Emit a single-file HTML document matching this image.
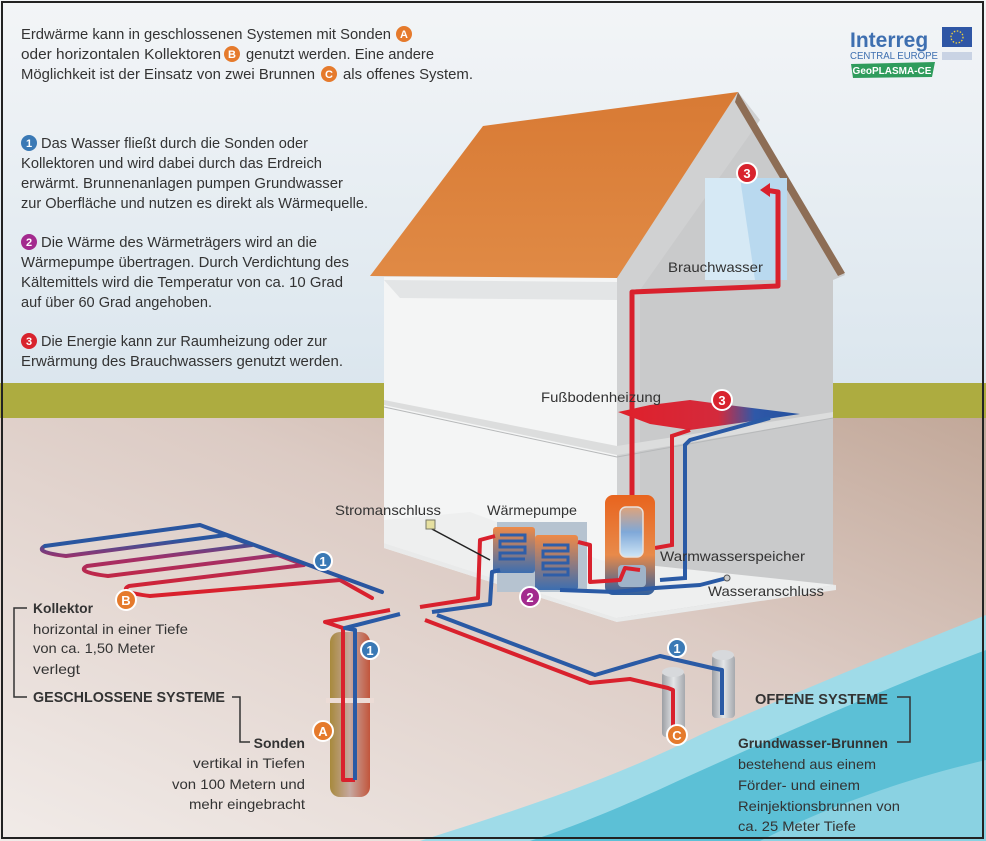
<!DOCTYPE html>
<html><head><meta charset="utf-8">
<style>
html,body{margin:0;padding:0;background:#fff;}
svg{display:block;}
text{font-family:"Liberation Sans",sans-serif;}
</style></head>
<body>
<svg width="986" height="841" viewBox="0 0 986 841" xmlns="http://www.w3.org/2000/svg">
<defs>
<linearGradient id="sky" x1="0" y1="0" x2="0" y2="1">
<stop offset="0" stop-color="#f3f5f7"/><stop offset="1" stop-color="#dbe6ee"/></linearGradient>
<linearGradient id="ground" x1="0" y1="1" x2="1" y2="0">
<stop offset="0" stop-color="#f1ebe8"/><stop offset="0.6" stop-color="#dccbc4"/><stop offset="1" stop-color="#c2a899"/></linearGradient>
<linearGradient id="roof" x1="0" y1="0" x2="0" y2="1">
<stop offset="0" stop-color="#d87a34"/><stop offset="1" stop-color="#e08a45"/></linearGradient>
<linearGradient id="tank" x1="0" y1="0" x2="0" y2="1">
<stop offset="0" stop-color="#e8641e"/><stop offset="0.6" stop-color="#e88a4a"/><stop offset="1" stop-color="#2e5fa0"/></linearGradient>
<linearGradient id="inner" x1="0" y1="0" x2="0" y2="1">
<stop offset="0" stop-color="#e0a37a"/><stop offset="0.5" stop-color="#7fa8d8"/><stop offset="1" stop-color="#cfe6f6"/></linearGradient>
<linearGradient id="hp" x1="0" y1="0" x2="0" y2="1">
<stop offset="0" stop-color="#ee8a48"/><stop offset="1" stop-color="#3c6eb0"/></linearGradient>
<linearGradient id="sonde" x1="0" y1="0" x2="1" y2="0">
<stop offset="0" stop-color="#a7893c"/><stop offset="0.5" stop-color="#c6a8a0"/><stop offset="1" stop-color="#c2553b"/></linearGradient>
<linearGradient id="well" x1="0" y1="0" x2="1" y2="0">
<stop offset="0" stop-color="#9c9fa4"/><stop offset="0.5" stop-color="#e3e5e7"/><stop offset="1" stop-color="#a5a8ad"/></linearGradient>
<linearGradient id="fh" x1="0" y1="0" x2="1" y2="0">
<stop offset="0" stop-color="#e0202a"/><stop offset="0.55" stop-color="#d42a3c"/><stop offset="0.75" stop-color="#2f58a8"/><stop offset="1" stop-color="#24519e"/></linearGradient>
<linearGradient id="coll" gradientUnits="userSpaceOnUse" x1="0" y1="540" x2="0" y2="590">
<stop offset="0" stop-color="#2a56a0"/><stop offset="0.35" stop-color="#a0306a"/><stop offset="1" stop-color="#d9212d"/></linearGradient>
</defs>

<rect x="0" y="0" width="986" height="384" fill="url(#sky)"/>
<rect x="0" y="383" width="986" height="36" fill="#adac40"/>
<rect x="0" y="418" width="986" height="423" fill="url(#ground)"/>

<path d="M986,615 C900,650 800,690 700,735 C600,785 500,815 420,841 L986,841 Z" fill="#9fdbe8"/>
<path d="M986,650 C880,690 780,735 680,780 C620,808 570,828 530,841 L986,841 Z" fill="#5cc0d6"/>
<path d="M986,760 C900,780 820,810 760,841 L986,841 Z" fill="#8ad2e2"/>

<polygon points="617,277 738,92 845,275 833,280 833,590 617,622" fill="#c9cacb"/>
<polygon points="617,277 738,92 760,120 640,290 640,610 617,622" fill="#d0d1d2"/>
<polygon points="384,277 617,277 617,622 384,548" fill="#f4f5f5"/>
<polygon points="384,280 617,282 617,300 400,298" fill="#e3e5e6"/>
<polygon points="384,405 617,455 833,418 833,412 617,446 384,400" fill="#dcdddd"/>
<line x1="384" y1="407" x2="617" y2="457" stroke="#b7b9ba" stroke-width="1"/>
<line x1="617" y1="457" x2="833" y2="418" stroke="#b7b9ba" stroke-width="1"/>
<polygon points="384,548 617,622 836,590 836,585 617,618 384,543" fill="#e9eaea"/>
<polygon points="384,520 470,512 600,560 836,585 617,618 384,543" fill="#eeefef"/>
<polygon points="370,276 483,126 738,92 617,278" fill="url(#roof)"/>
<polygon points="738,92 845,273 838,276 735,102" fill="#8d6d55"/>
<rect x="705" y="178" width="82" height="102" fill="#d6e9f5"/>
<polygon points="740,178 787,178 787,280 755,280" fill="#b9d9ef"/>

<polyline points="632,510 632,292 778,286 778,192 765,190" fill="none" stroke="#d9212d" stroke-width="5" stroke-linejoin="round"/>
<polygon points="760,190 770,183 770,197" fill="#d9212d"/>

<polygon points="618,412 650,405 690,400 720,404 800,414 760,420 690,430 650,424" fill="url(#fh)"/>
<polyline points="690,430 672,436 672,545 655,548" fill="none" stroke="#d9212d" stroke-width="4"/>
<polyline points="770,418 690,440 685,445 685,578 660,580" fill="none" stroke="#2a5aa5" stroke-width="4"/>

<rect x="497" y="522" width="90" height="70" fill="#b6c3d0"/>
<rect x="493" y="527" width="42" height="46" rx="3" fill="url(#hp)"/>
<rect x="535" y="535" width="43" height="55" rx="3" fill="url(#hp)"/>
<g fill="none" stroke="#2f5ea8" stroke-width="3">
<path d="M500,535 h25 v6 h-25 v6 h25 v6 h-25 v6 h25"/>
<path d="M543,545 h25 v6 h-25 v6 h25 v6 h-25 v6 h25 v6 h-25"/>
</g>
<rect x="605" y="495" width="50" height="100" rx="8" fill="url(#tank)"/>
<rect x="620" y="507" width="23" height="50" rx="6" fill="url(#inner)" stroke="#e7e0dc" stroke-width="1.5"/>
<rect x="618" y="565" width="28" height="22" rx="4" fill="#9fb3c8"/>
<g fill="none" stroke-width="4" stroke-linejoin="round">
<polyline points="578,542 590,545 590,582 620,580 625,568 640,570" stroke="#d9212d"/>
<polyline points="560,590 615,592 655,588 700,585 727,578" stroke="#2a5aa5"/>
<polyline points="420,607 478,598 480,540 495,536" stroke="#d9212d"/>
<polyline points="432,612 490,604 492,572 500,570" stroke="#2a5aa5"/>
</g>
<line x1="430" y1="528" x2="490" y2="560" stroke="#222" stroke-width="1.5"/>
<rect x="426" y="520" width="9" height="9" fill="#e6e0a0" stroke="#776" stroke-width="1"/>
<circle cx="727" cy="578" r="3" fill="#ccc" stroke="#555"/>

<!-- collector serpentine -->
<path d="M45,546 Q33,552 66,556 L226,535 Q242,541 252,545 L87,566 Q75,572 108,576 L278,555 Q294,561 304,565 L129,586 Q117,592 150,596 L340,580 L372,598" fill="none" stroke="url(#coll)" stroke-width="4" stroke-linejoin="round" stroke-linecap="round"/>
<path d="M382,592 L200,525 L45,546" fill="none" stroke="#2a56a0" stroke-width="4" stroke-linejoin="round" stroke-linecap="round"/>

<rect x="330" y="632" width="40" height="165" rx="10" fill="url(#sonde)"/>
<rect x="326" y="698" width="48" height="5" fill="#ecdcd6"/>
<g fill="none" stroke-width="4" stroke-linejoin="round">
<polyline points="390,610 325,622 343,628 343,780 355,780" stroke="#d9212d"/>
<polyline points="400,614 345,628 355,630 355,780" stroke="#2a5aa5"/>
</g>

<rect x="662" y="672" width="23" height="65" rx="4" fill="url(#well)"/>
<ellipse cx="673" cy="672" rx="11" ry="5" fill="#d7d9dc"/>
<rect x="712" y="655" width="23" height="63" rx="4" fill="url(#well)"/>
<ellipse cx="723" cy="655" rx="11" ry="5" fill="#d7d9dc"/>
<g fill="none" stroke-width="4" stroke-linejoin="round">
<polyline points="425,620 590,683 630,679 668,688 673,690 673,735" stroke="#d9212d"/>
<polyline points="437,615 595,675 660,656 712,668 722,670 722,715" stroke="#2a5aa5"/>
</g>

<g font-weight="bold" font-size="13" text-anchor="middle" fill="#fff">
<circle cx="323" cy="561" r="9" fill="#3a79b5" stroke="#fff" stroke-width="2"/><text x="323" y="566">1</text>
<circle cx="370" cy="650" r="9" fill="#3a79b5" stroke="#fff" stroke-width="2"/><text x="370" y="655">1</text>
<circle cx="677" cy="648" r="9" fill="#3a79b5" stroke="#fff" stroke-width="2"/><text x="677" y="653">1</text>
<circle cx="126" cy="600" r="10" fill="#e57a2c" stroke="#fff" stroke-width="2"/><text x="126" y="605">B</text>
<circle cx="323" cy="731" r="10" fill="#e57a2c" stroke="#fff" stroke-width="2"/><text x="323" y="736">A</text>
<circle cx="677" cy="735" r="10" fill="#e57a2c" stroke="#fff" stroke-width="2"/><text x="677" y="740">C</text>
<circle cx="530" cy="597" r="10" fill="#a32a8e" stroke="#fff" stroke-width="2"/><text x="530" y="602">2</text>
<circle cx="747" cy="173" r="10" fill="#d8232d" stroke="#fff" stroke-width="2"/><text x="747" y="178">3</text>
<circle cx="722" cy="400" r="10" fill="#d8232d" stroke="#fff" stroke-width="2"/><text x="722" y="405">3</text>
</g>

<g font-size="14.5" fill="#333">
<text x="21" y="39" textLength="370" lengthAdjust="spacingAndGlyphs">Erdwärme kann in geschlossenen Systemen mit Sonden</text>
<text x="21" y="59" textLength="200" lengthAdjust="spacingAndGlyphs">oder horizontalen Kollektoren</text>
<text x="246" y="59" textLength="188" lengthAdjust="spacingAndGlyphs">genutzt werden. Eine andere</text>
<text x="21" y="79" textLength="294" lengthAdjust="spacingAndGlyphs">Möglichkeit ist der Einsatz von zwei Brunnen</text>
<text x="343" y="79" textLength="130" lengthAdjust="spacingAndGlyphs">als offenes System.</text>
<text x="41" y="148" textLength="267" lengthAdjust="spacingAndGlyphs">Das Wasser fließt durch die Sonden oder</text>
<text x="21" y="168" textLength="301" lengthAdjust="spacingAndGlyphs">Kollektoren und wird dabei durch das Erdreich</text>
<text x="21" y="188" textLength="322" lengthAdjust="spacingAndGlyphs">erwärmt. Brunnenanlagen pumpen Grundwasser</text>
<text x="21" y="208" textLength="347" lengthAdjust="spacingAndGlyphs">zur Oberfläche und nutzen es direkt als Wärmequelle.</text>
<text x="41" y="247" textLength="276" lengthAdjust="spacingAndGlyphs">Die Wärme des Wärmeträgers wird an die</text>
<text x="21" y="267" textLength="328" lengthAdjust="spacingAndGlyphs">Wärmepumpe übertragen. Durch Verdichtung des</text>
<text x="21" y="287" textLength="322" lengthAdjust="spacingAndGlyphs">Kältemittels wird die Temperatur von ca. 10 Grad</text>
<text x="21" y="307" textLength="191" lengthAdjust="spacingAndGlyphs">auf über 60 Grad angehoben.</text>
<text x="41" y="346" textLength="286" lengthAdjust="spacingAndGlyphs">Die Energie kann zur Raumheizung oder zur</text>
<text x="21" y="366" textLength="322" lengthAdjust="spacingAndGlyphs">Erwärmung des Brauchwassers genutzt werden.</text>
</g>
<g font-weight="bold" font-size="11" text-anchor="middle" fill="#fff">
<circle cx="404" cy="34" r="8" fill="#e57a2c"/><text x="404" y="38">A</text>
<circle cx="232" cy="54" r="8" fill="#e57a2c"/><text x="232" y="58">B</text>
<circle cx="329" cy="74" r="8" fill="#e57a2c"/><text x="329" y="78">C</text>
<circle cx="29" cy="143" r="8" fill="#3a79b5"/><text x="29" y="147">1</text>
<circle cx="29" cy="242" r="8" fill="#a32a8e"/><text x="29" y="246">2</text>
<circle cx="29" cy="341" r="8" fill="#d8232d"/><text x="29" y="345">3</text>
</g>

<text x="850" y="47" font-size="21" font-weight="bold" fill="#3e6fb0">Interreg</text>
<rect x="942" y="27" width="30" height="20" fill="#2f56a5"/>
<circle cx="957" cy="37" r="6" fill="none" stroke="#f3d33a" stroke-width="1.3" stroke-dasharray="1.5 1.6"/>
<text x="850" y="59" font-size="10" fill="#3e6fb0" textLength="88" lengthAdjust="spacingAndGlyphs">CENTRAL EUROPE</text>
<rect x="942" y="52" width="30" height="8" fill="#c9d3e4"/>
<path d="M851,64 L935,62 L932,77 L853,78 Z" fill="#2f9c5c"/>
<text x="892" y="74" font-size="10" font-weight="bold" text-anchor="middle" fill="#fff">GeoPLASMA-CE</text>

<g font-size="14" fill="#333">
<text x="668" y="272" textLength="95" lengthAdjust="spacingAndGlyphs">Brauchwasser</text>
<text x="541" y="402" textLength="120" lengthAdjust="spacingAndGlyphs">Fußbodenheizung</text>
<text x="335" y="515" textLength="106" lengthAdjust="spacingAndGlyphs">Stromanschluss</text>
<text x="487" y="515" textLength="90" lengthAdjust="spacingAndGlyphs">Wärmepumpe</text>
<text x="660" y="561" textLength="145" lengthAdjust="spacingAndGlyphs">Warmwasserspeicher</text>
<text x="708" y="596" textLength="116" lengthAdjust="spacingAndGlyphs">Wasseranschluss</text>
</g>

<g font-size="14" fill="#333">
<text x="33" y="613" font-weight="bold" textLength="60" lengthAdjust="spacingAndGlyphs">Kollektor</text>
<text x="33" y="634" textLength="155" lengthAdjust="spacingAndGlyphs">horizontal in einer Tiefe</text>
<text x="33" y="653" textLength="122" lengthAdjust="spacingAndGlyphs">von ca. 1,50 Meter</text>
<text x="33" y="674" textLength="47" lengthAdjust="spacingAndGlyphs">verlegt</text>
<text x="33" y="702" font-weight="bold" font-size="15" textLength="192" lengthAdjust="spacingAndGlyphs">GESCHLOSSENE SYSTEME</text>
<text x="305" y="748" font-weight="bold" text-anchor="end">Sonden</text>
<text x="305" y="768" text-anchor="end" textLength="112" lengthAdjust="spacingAndGlyphs">vertikal in Tiefen</text>
<text x="305" y="789" text-anchor="end" textLength="133" lengthAdjust="spacingAndGlyphs">von 100 Metern und</text>
<text x="305" y="809" text-anchor="end" textLength="116" lengthAdjust="spacingAndGlyphs">mehr eingebracht</text>
<text x="755" y="704" font-weight="bold" font-size="15" textLength="133" lengthAdjust="spacingAndGlyphs">OFFENE SYSTEME</text>
<text x="738" y="748" font-weight="bold" textLength="150" lengthAdjust="spacingAndGlyphs">Grundwasser-Brunnen</text>
<text x="738" y="769" textLength="138" lengthAdjust="spacingAndGlyphs">bestehend aus einem</text>
<text x="738" y="790" textLength="122" lengthAdjust="spacingAndGlyphs">Förder- und einem</text>
<text x="738" y="811" textLength="162" lengthAdjust="spacingAndGlyphs">Reinjektionsbrunnen von</text>
<text x="738" y="831" textLength="118" lengthAdjust="spacingAndGlyphs">ca. 25 Meter Tiefe</text>
</g>
<g fill="none" stroke="#333" stroke-width="1.5">
<polyline points="27,608 14,608 14,697 27,697"/>
<polyline points="232,697 240,697 240,742 250,742"/>
<polyline points="897,697 910,697 910,742 897,742"/>
</g>

<rect x="2" y="2" width="981" height="836" fill="none" stroke="#222" stroke-width="2"/>
</svg>
</body></html>
